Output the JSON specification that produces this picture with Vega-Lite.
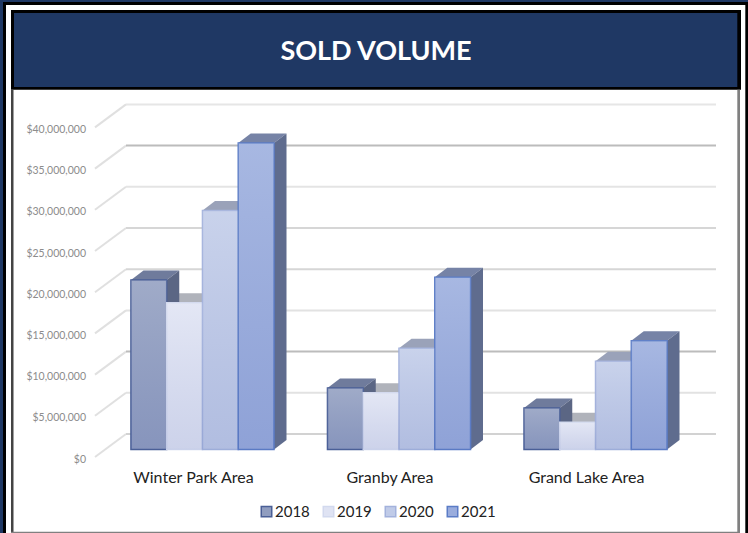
{
"$schema":"https://vega.github.io/schema/vega-lite/v6.json",
"width":748,"height":533,"padding":0,"autosize":{"type":"none"},"background":"#ffffff",
"title":{"text":"SOLD VOLUME","color":"#ffffff","font":"Lato","fontSize":27,"fontWeight":"bold","anchor":"middle","dx":2,"offset":-93,"baseline":"bottom","frame":"group","zindex":1},
"config":{"view":{"stroke":null},"font":"Lato"},
"datasets":{
"bars":[
{"area":"Winter Park Area","year":"2018","volume":20570000},
{"area":"Winter Park Area","year":"2019","volume":17800000},
{"area":"Winter Park Area","year":"2020","volume":29000000},
{"area":"Winter Park Area","year":"2021","volume":37200000},
{"area":"Granby Area","year":"2018","volume":7460000},
{"area":"Granby Area","year":"2019","volume":6900000},
{"area":"Granby Area","year":"2020","volume":12300000},
{"area":"Granby Area","year":"2021","volume":20900000},
{"area":"Grand Lake Area","year":"2018","volume":5040000},
{"area":"Grand Lake Area","year":"2019","volume":3300000},
{"area":"Grand Lake Area","year":"2020","volume":10700000},
{"area":"Grand Lake Area","year":"2021","volume":13200000}
],
"ticks":[{"tick":0},{"tick":5000000},{"tick":10000000},{"tick":15000000},{"tick":20000000},{"tick":25000000},{"tick":30000000},{"tick":35000000},{"tick":40000000}],
"one":[{}]
},
"resolve":{"scale":{"x":"independent","fill":"independent","stroke":"independent"}},
"layer":[
{"data":{"name":"one"},"mark":{"type":"rect","fill":"#1f3864"},"encoding":{"x":{"datum":0,"scale":{"domain":[0,748]},"axis":null},"x2":{"datum":3},"y":{"datum":55461165,"type":"quantitative","scale":{"domain":[-9223301,55461165],"nice":false,"zero":false},"axis":{"values":[0,5000000,10000000,15000000,20000000,25000000,30000000,35000000,40000000],"format":"$,.0f","orient":"left","offset":-85.5,"grid":false,"domain":false,"ticks":false,"labelPadding":0,"labelOffset":2,"labelFontSize":10.5,"labelColor":"#8c8c8c","labelFont":"Lato","title":null}},"y2":{"datum":-9223301}}},
{"data":{"name":"one"},"mark":{"type":"rect","fill":"#1f3864"},"encoding":{"x":{"datum":0,"scale":{"domain":[0,748]},"axis":null},"x2":{"datum":748},"y":{"datum":55461165},"y2":{"datum":55218447}}},
{"data":{"name":"one"},"mark":{"type":"rect","fill":"#000000"},"encoding":{"x":{"datum":3,"scale":{"domain":[0,748]},"axis":null},"x2":{"datum":6},"y":{"datum":55218447},"y2":{"datum":-9223301}}},
{"data":{"name":"one"},"mark":{"type":"rect","fill":"#000000"},"encoding":{"x":{"datum":3,"scale":{"domain":[0,748]},"axis":null},"x2":{"datum":748},"y":{"datum":55218447},"y2":{"datum":54854369}}},
{"data":{"name":"one"},"mark":{"type":"rect","fill":"#000000"},"encoding":{"x":{"datum":745.3,"scale":{"domain":[0,748]},"axis":null},"x2":{"datum":748},"y":{"datum":55218447},"y2":{"datum":-9223301}}},
{"data":{"name":"one"},"mark":{"type":"rect","fill":"#000000"},"encoding":{"x":{"datum":11,"scale":{"domain":[0,748]},"axis":null},"x2":{"datum":741},"y":{"datum":54247573},"y2":{"datum":44575243}}},
{"data":{"name":"one"},"mark":{"type":"rect","fill":"#1f3864"},"encoding":{"x":{"datum":14,"scale":{"domain":[0,748]},"axis":null},"x2":{"datum":737.3},"y":{"datum":53883494},"y2":{"datum":44902911}}},
{"data":{"name":"one"},"mark":{"type":"rect","fill":"#444444"},"encoding":{"x":{"datum":11,"scale":{"domain":[0,748]},"axis":null},"x2":{"datum":13.5},"y":{"datum":44575243},"y2":{"datum":-9223301}}},
{"data":{"name":"one"},"mark":{"type":"rect","fill":"#808080"},"encoding":{"x":{"datum":737.3,"scale":{"domain":[0,748]},"axis":null},"x2":{"datum":740},"y":{"datum":44575243},"y2":{"datum":-9223301}}},
{"data":{"name":"one"},"mark":{"type":"rect","fill":"#808080"},"encoding":{"x":{"datum":11,"scale":{"domain":[0,748]},"axis":null},"x2":{"datum":740},"y":{"datum":-9065534},"y2":{"datum":-9223301}}},
{"data":{"name":"ticks"},
 "transform":[{"calculate":"datum.tick+2791262","as":"back"}],
 "mark":{"type":"rule","strokeWidth":2,"stroke":"#e0e0e0"},
 "encoding":{"x":{"datum":95,"scale":{"domain":[0,748]},"axis":null},"x2":{"datum":126},
  "y":{"field":"tick","type":"quantitative"},
  "y2":{"field":"back"}}},
{"data":{"name":"ticks"},
 "transform":[{"calculate":"datum.tick+2791262","as":"back"}],
 "mark":{"type":"rule","strokeWidth":2},
 "encoding":{"x":{"datum":126,"scale":{"domain":[0,748]},"axis":null},"x2":{"datum":716},
  "y":{"field":"back","type":"quantitative"},
  "stroke":{"field":"tick","type":"nominal","legend":null,"scale":{"domain":[0,5000000,10000000,15000000,20000000,25000000,30000000,35000000,40000000],"range":["#d2d2d2","#e2e2e2","#bcbcbc","#e2e2e2","#d6d6d6","#d6d6d6","#e4e4e4","#bcbcbc","#e6e6e6"]}}}},
{"data":{"name":"bars"},
 "transform":[
  {"calculate":"[0,1,2,3]","as":"v"},{"flatten":["v"]},
  {"calculate":"131+196.5*indexof(['Winter Park Area','Granby Area','Grand Lake Area'],datum.area)+35.75*indexof(['2018','2019','2020','2021'],datum.year)","as":"xl"},
  {"calculate":"datum.xl+[0,12.5,35.75,48.25][datum.v]","as":"px"},
  {"calculate":"datum.volume+910194","as":"b"},
  {"calculate":"datum.b+[0,1152913,1152913,1152913][datum.v]","as":"yUp"},
  {"calculate":"datum.b+[0,0,0,1152913][datum.v]","as":"yLo"}
 ],
 "mark":{"type":"area","orient":"vertical"},
 "encoding":{"x":{"field":"px","type":"quantitative","scale":{"domain":[0,748]},"axis":null},
  "y":{"field":"yUp","type":"quantitative","stack":null},"y2":{"field":"yLo"},
  "detail":{"field":"area"},
  "fill":{"field":"year","type":"nominal","legend":null,"scale":{"domain":["2018","2019","2020","2021"],"range":["#6f7b9c","#b0b3bb","#9aa2b9","#7683a6"]}}}},
{"data":{"name":"bars"},
 "transform":[
  {"calculate":"[0,1]","as":"v"},{"flatten":["v"]},
  {"calculate":"131+196.5*indexof(['Winter Park Area','Granby Area','Grand Lake Area'],datum.area)+35.75*indexof(['2018','2019','2020','2021'],datum.year)+35.75+12.5*datum.v","as":"px"},
  {"calculate":"datum.volume+910194+1152913*datum.v","as":"yUp"},
  {"calculate":"910194+1152913*datum.v","as":"yLo"}
 ],
 "mark":{"type":"area","orient":"vertical"},
 "encoding":{"x":{"field":"px","type":"quantitative","scale":{"domain":[0,748]},"axis":null},
  "y":{"field":"yUp","type":"quantitative","stack":null},"y2":{"field":"yLo"},
  "detail":{"field":"area"},
  "fill":{"field":"year","type":"nominal","legend":null,"scale":{"domain":["2018","2019","2020","2021"],"range":["#5b6684","#8c8f99","#858ca6","#5f6c8e"]}}}},
{"data":{"name":"bars"},
 "mark":{"type":"bar","strokeWidth":1.5,"yOffset":-7.5,"y2Offset":-7.5},
 "encoding":{
  "x":{"field":"area","type":"nominal","sort":["Winter Park Area","Granby Area","Grand Lake Area"],
   "scale":{"domain":["Winter Park Area","Granby Area","Grand Lake Area"],"paddingInner":0.272,"paddingOuter":0.539,"align":0.618},
   "axis":{"title":null,"orient":"bottom","offset":-64,"domain":false,"ticks":false,"labelPadding":0,"labelAngle":0,"labelFontSize":16,"labelColor":"#222222","labelFont":"Lato","labelOffset":-9}},
  "xOffset":{"field":"year","type":"nominal","sort":["2018","2019","2020","2021"],"scale":{"paddingInner":0,"paddingOuter":0}},
  "y":{"field":"volume","type":"quantitative","stack":null},
  "y2":{"datum":0},
  "fill":{"field":"year","type":"nominal","scale":{"domain":["2018","2019","2020","2021"],"range":["#909dbf","#dfe3f3","#c0cbe8","#99acdd"]},
   "legend":{"title":null,"orient":"none","legendX":259,"legendY":504,"direction":"horizontal","columns":4,"symbolType":"square","symbolSize":110,"symbolStrokeWidth":1.5,"labelFontSize":15,"labelColor":"#222222","labelFont":"Lato","columnPadding":10,"labelOffset":1}},
  "stroke":{"field":"year","type":"nominal","scale":{"domain":["2018","2019","2020","2021"],"range":["#4a5f96","#d2d9ee","#a3b2dc","#5b7cc6"]}}
 }},
{"data":{"name":"bars"},
 "mark":{"type":"bar","yOffset":-7.5,"y2Offset":-7.5,"fill":{"gradient":"linear","x1":0,"y1":0,"x2":0,"y2":1,"stops":[{"offset":0,"color":"rgba(255,255,255,0.14)"},{"offset":1,"color":"rgba(70,90,170,0.12)"}]}},
 "encoding":{
  "x":{"field":"area","type":"nominal","sort":["Winter Park Area","Granby Area","Grand Lake Area"],
   "scale":{"domain":["Winter Park Area","Granby Area","Grand Lake Area"],"paddingInner":0.272,"paddingOuter":0.539,"align":0.618},"axis":null},
  "xOffset":{"field":"year","type":"nominal","sort":["2018","2019","2020","2021"],"scale":{"paddingInner":0,"paddingOuter":0}},
  "y":{"field":"volume","type":"quantitative","stack":null},
  "y2":{"datum":0}
 }}
]
}
